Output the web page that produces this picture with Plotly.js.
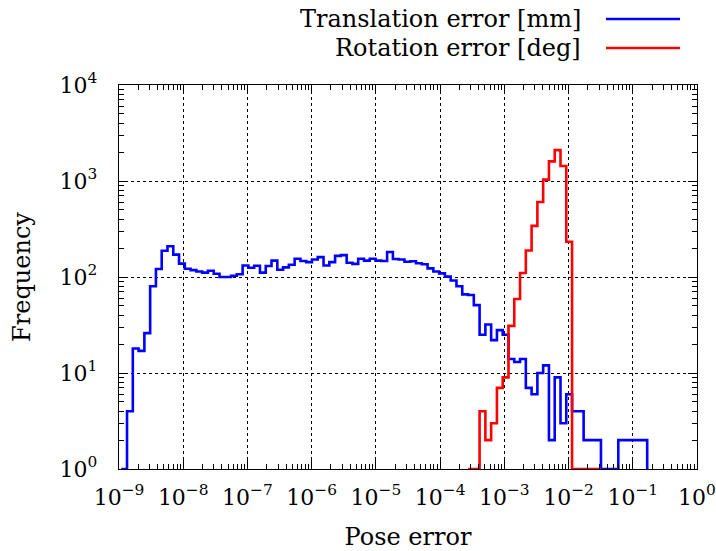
<!DOCTYPE html>
<html>
<head>
<meta charset="utf-8">
<script src="https://cdn.plot.ly/plotly-3.0.1.min.js"></script>
<style>
html,body{margin:0;padding:0;background:#fff;}
#chart{width:716px;height:551px;}
</style>
</head>
<body>
<div id="chart"></div>
<script>
// Histogram bins in log10(pose error): common bin grid for both series
const binStart = -8.875;   // log10 of the left edge of bin 0
const binWidth = 0.09;     // bin width in decades

// Translation error [mm] counts, starting at bin -1
const translationFirstBin = -1;
const translationCounts = [
  1, 4, 18, 17, 26, 80, 121, 188, 209, 171,
  138, 122, 118, 114, 111, 116, 108, 100, 100, 103,
  107, 132, 125, 131, 111, 130, 148, 119, 126, 134,
  155, 147, 143, 152, 161, 132, 143, 166, 169, 141,
  137, 155, 148, 155, 148, 147, 182, 154, 152, 144,
  146, 139, 136, 123, 114, 109, 101, 92, 80, 66,
  65, 51, 25, 32, 22, 28, 25, 14, 13, 14,
  7, 6, 10, 12, 2, 9, 3, 6, 4, 4,
  2, 2, 2, 1, 1, 1, 2, 2, 2, 2,
  2
];

// Rotation error [deg] counts, starting at bin 59
const rotationFirstBin = 59;
const rotationCounts = [
  1, 1, 4, 2, 3, 7, 9, 31, 59, 110,
  189, 341, 605, 1033, 1600, 2099, 1431, 233, 1, 1,
  1, 1, 1
];

const seriesNames = ['Translation error [mm]', 'Rotation error [deg]'];
const seriesColors = ['#0000ff', '#ff0000'];
const xTickLabels = ['10<sup>−9</sup>','10<sup>−8</sup>','10<sup>−7</sup>','10<sup>−6</sup>','10<sup>−5</sup>','10<sup>−4</sup>','10<sup>−3</sup>','10<sup>−2</sup>','10<sup>−1</sup>','10<sup>0</sup>'];
const xTickVals = [1e-9,1e-8,1e-7,1e-6,1e-5,1e-4,1e-3,1e-2,1e-1,1];
const yTickLabels = ['10<sup>0</sup>','10<sup>1</sup>','10<sup>2</sup>','10<sup>3</sup>','10<sup>4</sup>'];
const yTickVals = [1,10,100,1000,10000];

function stepTrace(counts, firstBin, name, color) {
  const x = [], y = [];
  for (let i = 0; i < counts.length; i++) {
    x.push(Math.pow(10, binStart + (firstBin + i) * binWidth));
    y.push(counts[i]);
  }
  // right edge of the last bin, back down to the baseline
  x.push(Math.pow(10, binStart + (firstBin + counts.length) * binWidth));
  y.push(1);
  return {
    x: x, y: y, type: 'scatter', mode: 'lines', name: name,
    line: {shape: 'hv', color: color, width: 2.6},
    showlegend: false, hoverinfo: 'skip'
  };
}

const traces = [
  stepTrace(translationCounts, translationFirstBin, seriesNames[0], seriesColors[0]),
  stepTrace(rotationCounts, rotationFirstBin, seriesNames[1], seriesColors[1])
];

const fontFam = 'DejaVu Serif';
const axisCommon = {
  type: 'log',
  showline: true, linecolor: '#000', linewidth: 1.2, mirror: 'allticks',
  ticks: 'inside', ticklen: 9, tickwidth: 1, tickcolor: '#000',
  showgrid: true, gridcolor: '#000', gridwidth: 1, griddash: 'dot',
  zeroline: false, ticklabeloverflow: 'allow',
  tickfont: {family: fontFam, size: 22, color: '#000'},
  minor: {ticks: 'inside', ticklen: 5, tickwidth: 1, tickcolor: '#000', showgrid: false, dtick: 'D1'}
};

const layout = {
  width: 716, height: 551,
  margin: {l: 119, r: 19, t: 85, b: 82, pad: 0},
  paper_bgcolor: '#fff', plot_bgcolor: '#fff',
  showlegend: false,
  font: {family: fontFam, color: '#000'},
  xaxis: Object.assign({}, axisCommon, {
    range: [-9, 0.0005], tickmode: 'array', tickvals: xTickVals, ticktext: xTickLabels,
    ticklabelstandoff: 8,
    title: {text: 'Pose error', font: {family: fontFam, size: 24, color: '#000'}, standoff: 22}
  }),
  yaxis: Object.assign({}, axisCommon, {
    range: [0, 4.0002], tickmode: 'array', tickvals: yTickVals, ticktext: yTickLabels,
    ticklabelstandoff: 16,
    title: {text: 'Frequency', font: {family: fontFam, size: 24, color: '#000'}, standoff: 22}
  }),
  annotations: [
    {xref: 'paper', yref: 'paper', x: 0.802, y: (469 - 19) / 384, xanchor: 'right', yanchor: 'middle',
     text: seriesNames[0], showarrow: false, font: {family: fontFam, size: 24, color: '#000'}},
    {xref: 'paper', yref: 'paper', x: 0.802, y: (469 - 48) / 384, xanchor: 'right', yanchor: 'middle',
     text: seriesNames[1], showarrow: false, font: {family: fontFam, size: 24, color: '#000'}}
  ],
  shapes: [
    {type: 'line', xref: 'paper', yref: 'paper', x0: (606 - 119) / 578, x1: (680 - 119) / 578,
     y0: (469 - 19) / 384, y1: (469 - 19) / 384, line: {color: seriesColors[0], width: 2.6}},
    {type: 'line', xref: 'paper', yref: 'paper', x0: (606 - 119) / 578, x1: (680 - 119) / 578,
     y0: (469 - 48) / 384, y1: (469 - 48) / 384, line: {color: seriesColors[1], width: 2.6}}
  ]
};

Plotly.newPlot('chart', traces, layout, {staticPlot: true, displayModeBar: false});
</script>
</body>
</html>
